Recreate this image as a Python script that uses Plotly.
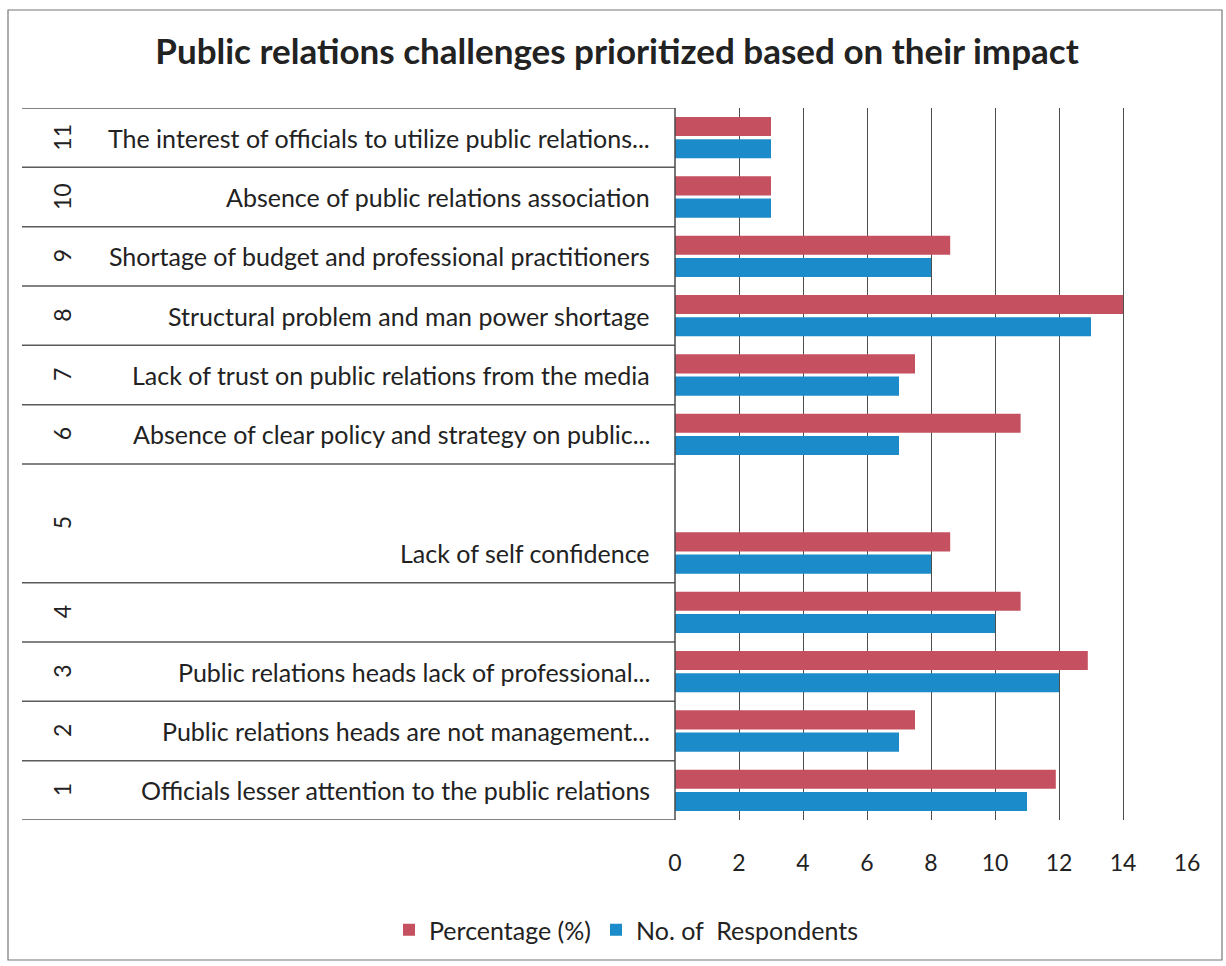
import plotly.graph_objects as go

# Challenge ranks (bottom to top) with their descriptions
ranks = ["1", "2", "3", "4", "5", "6", "7", "8", "9", "10", "11"]
challenges = [
    "Officials lesser attention to the public relations",
    "Public relations heads are not management...",
    "Public relations heads lack of professional...",
    "",
    "Lack of self confidence",
    "Absence of clear policy and strategy on public...",
    "Lack of trust on public relations from the media",
    "Structural problem and man power shortage",
    "Shortage of budget and professional practitioners",
    "Absence of public relations association",
    "The interest of officials to utilize public relations...",
]
percentage = [11.9, 7.5, 12.9, 10.8, 8.6, 10.8, 7.5, 14.0, 8.6, 3.0, 3.0]
respondents = [11, 7, 12, 10, 8, 7, 7, 13, 8, 3, 3]
x_ticks = [0, 2, 4, 6, 8, 10, 12, 14, 16]

# rank 5 occupies a double-height row; an empty slot sits above it
SPACER = "spacer"
y_order = ranks[:5] + [SPACER] + ranks[5:]

W, H = 1226, 966
PL, PR, PT, PB = 675, 1187, 108, 820
FONT = "Lato"
RED = "#C5505F"
BLUE = "#1C8BC9"


def px_x(px):
    return (px - PL) / (PR - PL)


def px_y(py):
    return (PB - py) / (PB - PT)


fig = go.Figure()
fig.add_trace(go.Bar(
    name="No. of  Respondents", orientation="h",
    y=ranks + [SPACER], x=respondents + [None],
    marker=dict(color=BLUE, line=dict(width=0)),
))
fig.add_trace(go.Bar(
    name="Percentage (%)", orientation="h",
    y=ranks + [SPACER], x=percentage + [None],
    marker=dict(color=RED, line=dict(width=0)),
))

shapes = []
annotations = []

# row separators of the label table (spacer slot merged into rank 5)
idx = {c: i for i, c in enumerate(y_order)}
bounds = [-0.5] + [i + 0.5 for i in range(len(y_order)) if y_order[i] != "5"]
for b in bounds:
    shapes.append(dict(type="line", xref="paper", yref="y",
                       x0=px_x(22), x1=0, y0=b, y1=b,
                       line=dict(color="#5a5a5a", width=1.5)))

# rank numbers (rotated) and challenge descriptions
for r, text in zip(ranks, challenges):
    yr = idx[r] + 0.5 if r == "5" else idx[r]
    annotations.append(dict(xref="paper", yref="y", x=px_x(62), y=yr,
                            xanchor="center", yanchor="middle",
                            text=r, showarrow=False, textangle=-90,
                            font=dict(family=FONT, size=23, color="#222")))
    if text:
        annotations.append(dict(xref="paper", yref="y", x=px_x(652), y=idx[r],
                                text=text, showarrow=False, xanchor="right",
                                yanchor="middle",
                                font=dict(family=FONT, size=25, color="#222")))

# left axis line and outer chart frame
shapes.append(dict(type="line", xref="paper", yref="paper", x0=0, x1=0,
                   y0=0, y1=1, line=dict(color="#4a4a4a", width=1.5)))
shapes.append(dict(type="rect", xref="paper", yref="paper",
                   x0=px_x(8), x1=px_x(1222), y0=px_y(960), y1=px_y(10),
                   line=dict(color="#777", width=1.2)))

fig.update_layout(
    width=W, height=H,
    margin=dict(l=PL, r=W - PR, t=PT, b=H - PB),
    paper_bgcolor="white", plot_bgcolor="white",
    barmode="group", bargap=0.25, bargroupgap=0.14,
    title=dict(text="<b>Public relations challenges prioritized based on their impact</b>",
               xref="container", yref="container", x=617 / W, y=1 - 52 / H,
               xanchor="center", yanchor="middle",
               font=dict(family=FONT, size=35, color="#222")),
    xaxis=dict(range=[0, 16], tickvals=x_ticks, showgrid=True,
               gridcolor="#4f4f4f", gridwidth=1.3, zeroline=False,
               showline=False, ticks="", ticklabelstandoff=27,
               tickfont=dict(family=FONT, size=23, color="#222")),
    yaxis=dict(type="category", categoryorder="array", categoryarray=y_order,
               showticklabels=False, showgrid=False, zeroline=False,
               range=[-0.5, len(y_order) - 0.5]),
    legend=dict(orientation="h", traceorder="reversed",
                xref="container", yref="container",
                x=626 / W, y=1 - 930 / H, xanchor="center", yanchor="middle",
                font=dict(family=FONT, size=25, color="#222"),
                itemwidth=30),
    shapes=shapes, annotations=annotations,
)

fig.write_html("out.html")
